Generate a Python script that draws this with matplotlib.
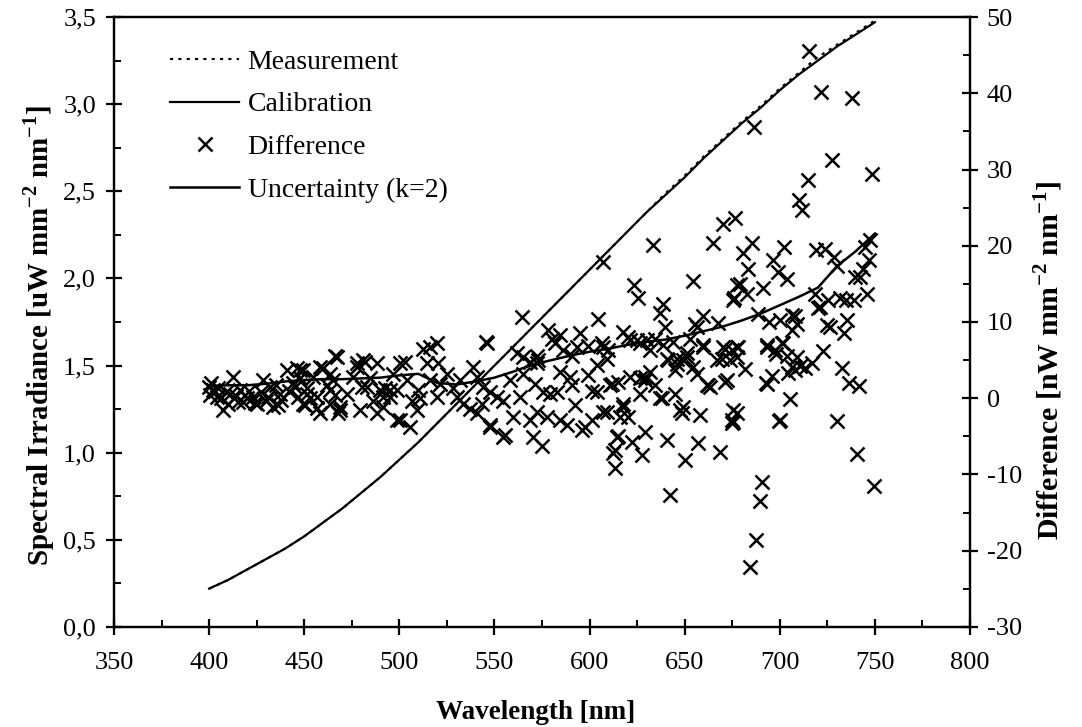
import numpy as np
import matplotlib
matplotlib.use('Agg')
from matplotlib import pyplot as plt
from matplotlib.ticker import MultipleLocator, FixedLocator

plt.rcParams['font.family'] = 'Liberation Serif'
plt.rcParams['mathtext.fontset'] = 'custom'
plt.rcParams['mathtext.rm'] = 'Liberation Serif'
plt.rcParams['mathtext.bf'] = 'Liberation Serif:bold'
plt.rcParams['axes.unicode_minus'] = False

# spectral irradiance curves (left axis)
wl = np.array([400, 410, 420, 430, 440, 450, 460, 470, 480, 490, 500, 510, 520, 530, 540,
               550, 560, 570, 580, 590, 600, 610, 620, 630, 640, 650, 660, 670, 680, 690,
               700, 710, 720, 730, 740, 750])
calibration = np.array([0.22, 0.27, 0.33, 0.39, 0.45, 0.52, 0.60, 0.68, 0.77, 0.86, 0.96, 1.06,
                        1.17, 1.28, 1.39, 1.50, 1.61, 1.72, 1.83, 1.94, 2.05, 2.16, 2.27, 2.38,
                        2.48, 2.58, 2.69, 2.79, 2.89, 2.98, 3.08, 3.17, 3.25, 3.33, 3.40, 3.47])
measurement = np.array([0.22, 0.27, 0.33, 0.39, 0.45, 0.52, 0.60, 0.68, 0.77, 0.86, 0.96, 1.06,
                        1.17, 1.28, 1.39, 1.50, 1.61, 1.72, 1.83, 1.94, 2.05, 2.16, 2.27, 2.38,
                        2.49, 2.59, 2.70, 2.80, 2.90, 2.99, 3.09, 3.18, 3.27, 3.34, 3.41, 3.48])

# expanded uncertainty (k=2), right axis
wl_unc = np.array([400, 410, 420, 430, 440, 450, 460, 470, 480, 490, 500, 510, 515, 520, 530,
                   540, 550, 560, 570, 580, 590, 600, 610, 620, 630, 640, 650, 660, 670, 680,
                   690, 700, 710, 720, 730, 740, 750])
uncertainty = np.array([1.6, 1.7, 1.7, 1.9, 2.2, 2.4, 2.5, 2.5, 2.6, 2.7, 3.0, 3.2, 2.6, 2.0, 1.8,
                        2.2, 2.7, 3.5, 4.4, 5.0, 5.6, 6.1, 6.5, 7.0, 7.4, 7.7, 8.2, 8.8, 9.4, 10.2,
                        11.1, 12.2, 13.3, 14.5, 17.3, 19.3, 21.6])

# difference measurement - calibration (right axis)
wl_diff = np.array([
    400.0, 402.2, 400.5, 404.9, 407.5, 412.7, 411.0, 416.2, 419.7, 425.0, 428.5, 432.0, 433.8,
    437.3, 440.8, 401.0, 403.0, 406.0, 409.0, 414.0, 418.0, 421.0, 423.0, 427.0, 430.0, 435.0,
    438.0, 442.0, 404.0, 410.0, 415.0, 424.0, 431.0, 436.0,
    444.3, 447.8, 449.5, 451.3, 454.8, 458.3, 456.5, 458.3, 463.6, 467.1, 468.8, 465.3, 446.0,
    449.5, 447.8, 445.1, 451.3, 446.9, 453.0, 450.4, 456.5, 460.0, 463.5, 466.2, 461.8, 466.2,
    463.5, 468.8, 467.9,
    472.3, 477.6, 481.1, 479.3, 482.8, 488.1, 488.1, 491.6, 496.9, 498.6, 495.1, 477.6, 482.0,
    475.8, 480.2, 484.6, 489.8, 486.3, 492.5, 491.6, 495.1, 500.3, 503.0, 503.9, 498.6, 506.5,
    500.3, 505.6, 509.1, 510.0,
    512.6, 516.1, 519.6, 514.4, 520.5, 516.1, 521.4, 519.6, 510.9, 524.9, 528.4, 530.2, 533.7,
    538.9, 540.7, 544.2, 547.7, 551.2, 554.7, 545.9, 531.9, 537.2, 540.7, 547.7, 554.7, 560.0,
    561.7, 565.2, 568.7, 572.2, 565.2, 558.2, 563.5, 568.7, 570.5, 543.3, 564.3, 545.6, 547.7,
    555.6, 574.9,
    578.3, 580.1, 584.5, 595.0, 581.9, 593.2, 599.3, 607.2, 609.9, 609.0, 603.8, 572.2, 573.1,
    586.2, 590.6, 584.5, 589.7, 599.4, 590.6, 571.3, 575.7, 579.2, 582.7, 601.1, 603.8, 611.6,
    615.1, 592.4, 617.8, 609.0, 572.2, 577.5, 584.5, 588.0, 597.6, 595.9, 601.1, 616.1, 615.1,
    612.5, 613.4, 604.6, 617.8, 620.4, 607.3, 606.4, 607.3, 614.3, 613.4, 610.8,
    623.4, 625.7, 654.6, 638.4, 637.0, 659.8, 655.4, 667.7, 639.7, 624.8, 630.1, 634.4, 631.8,
    638.8, 644.0, 652.8, 659.8, 651.0, 645.8, 649.3, 641.4, 670.3, 674.7, 666.8, 669.5, 673.9,
    677.3, 621.3, 626.5, 629.2, 631.8, 634.4, 626.5, 637.9, 645.0, 656.3, 661.6, 663.4, 671.2,
    620.4, 649.3, 648.5, 658.1, 675.6, 674.7, 622.2, 629.2, 640.6, 657.2, 668.6, 627.4, 650.2,
    642.3, 633.6, 665.1, 670.4, 676.5, 621.3, 626.5, 640.6, 645.8, 651.1, 654.6, 644.9, 659.8,
    671.2, 662.5, 672.1, 629.2, 637.1, 617.8, 647.6, 674.7, 675.6, 656.3, 675.6, 677.4, 679.1,
    690.5, 689.6, 687.5, 684.4, 749.6, 740.5, 730.3, 699.8, 677.7, 705.4, 692.8, 695.8, 681.8,
    704.5, 710.7, 713.3, 716.8, 722.6, 732.6, 736.6, 741.4, 678.2, 693.5, 697.8, 701.5, 724.7,
    726.4, 733.8, 735.5, 688.7, 694.5, 706.3, 708.0, 706.3, 720.3,
    715.4, 721.5, 737.8, 686.5, 727.7, 748.7, 714.7, 710.3, 711.5, 685.3, 680.8, 702.4, 719.1,
    723.8, 728.7, 729.9, 747.5, 744.8, 747.1, 744.0, 739.6, 742.2, 745.7, 696.6, 683.5, 699.3,
    703.6, 682.6, 691.4, 675.9, 718.6, 721.2, 725.6, 731.7, 734.9, 739.1, 700.2, 709.0, 693.1,
    697.5, 701.0, 703.7, 706.3, 708.9, 708.0, 693.1, 700.2, 677.4])
diff = np.array([
    1.5, 1.1, 0.4, 1.3, -1.6, 2.8, 0.6, 1.1, 0.0, -0.7, 2.4, 1.5, -1.1,
    0.6, 3.7, 2.0, 0.9, 0.0, 0.8, 0.3, -0.5, 1.0, 0.2, 0.8, -0.3, 1.8,
    -0.2, 1.0, 0.2, -0.8, -0.5, -0.6, 0.2, -0.9,
    2.0, 3.7, -0.7, 0.6, 2.8, -2.0, 0.2, 4.1, 1.1, 5.4, -1.6, 2.4, 3.9,
    3.7, 2.6, 1.5, 1.3, 0.2, 0.0, -0.9, -1.3, 3.9, 3.2, 5.6, 1.7, 0.4,
    -0.7, -1.1, -2.0,
    0.6, 4.1, 5.0, -1.6, 1.5, 4.6, -2.0, 0.2, 3.2, -2.9, 1.1, 4.6, 4.8,
    2.8, 1.5, 2.6, 1.1, -0.3, 1.3, -1.1, 0.2, 4.6, 4.8, 2.4, 1.1, -0.3,
    -2.9, -3.8, -1.6, 1.1,
    6.5, 6.7, 7.2, 4.6, 4.6, 2.4, 1.9, 0.2, 0.0, 3.2, 1.3, 0.2, -0.7,
    4.1, 2.8, 1.5, 0.8, 0.2, -0.3, 7.2, 2.4, -1.4, -2.0, -3.8, -5.1, -2.4,
    5.9, 5.4, 4.8, 4.6, 3.2, 2.4, 0.2, -2.9, -5.1, -0.7, 10.7, 7.4, -3.5,
    -4.8, -6.2,
    8.9, 7.8, 8.3, 8.5, 7.2, 6.7, 6.8, 6.7, 6.3, 5.2, 4.3, 5.6, 5.0,
    6.3, 5.6, 3.4, 2.8, 3.0, 1.7, 1.9, 0.8, 0.6, 0.8, 1.0, 0.8, 1.9,
    2.1, -0.9, -0.7, -1.8, -1.8, -2.4, -2.9, -3.5, -3.8, -4.2, -2.9, -2.4, -4.9,
    -7.2, -9.2, 10.4, 8.7, 8.0, 17.9, 7.2, -1.8, -5.1, -6.8, 1.7,
    14.8, 13.2, 15.4, 12.4, 11.2, 10.8, 9.7, 9.9, 9.3, 7.6, 7.6, 7.8, 6.3,
    7.0, 7.4, 7.8, 7.0, 5.9, 5.2, 5.0, 5.0, 6.7, 6.3, 5.0, 5.2, 5.0,
    5.4, 2.8, 2.6, 2.8, 3.4, 1.7, 0.6, 0.0, 0.6, 3.2, 1.7, 1.5, 2.1,
    -2.4, -1.1, -2.0, -2.2, -1.6, -3.3, -5.7, -4.4, -5.5, -5.9, -7.0, -7.5, -8.1,
    -12.7, 20.1, 20.3, 22.9, 23.6, 7.6, 7.2, 5.2, 4.5, 5.4, 4.1, 3.7, 6.7,
    6.5, 1.7, 2.4, 2.4, 0.0, -1.1, -1.6, -2.9, -3.1, 9.4, 12.9, 14.8, 15.0,
    -11.0, -13.5, -18.6, -22.1, -11.5, -7.3, -3.0, -3.0, -1.9, -0.1, 2.0, 2.9, 3.8,
    3.3, 4.2, 3.9, 4.6, 6.2, 3.9, 2.0, 1.6, 6.7, 7.0, 5.8, 7.2, 9.6,
    9.4, 8.5, 10.3, 11.1, 10.0, 10.9, 10.8, 9.0, 11.8,
    45.6, 40.2, 39.4, 35.6, 31.3, 29.4, 28.6, 26.0, 24.7, 20.3, 19.0, 19.8, 19.5,
    19.6, 18.5, 17.4, 20.8, 19.8, 18.1, 17.0, 15.9, 15.9, 13.7, 18.1, 16.9, 16.6,
    15.7, 13.7, 14.4, 13.1, 13.7, 12.0, 12.9, 13.1, 12.9, 12.9, 10.3, 9.8, 6.7,
    6.3, 7.2, 5.6, 4.1, 5.4, 3.7, 1.9, -2.9, 6.7])

left_ticks = [0, 0.5, 1.0, 1.5, 2.0, 2.5, 3.0, 3.5]
left_labels = ['0,0', '0,5', '1,0', '1,5', '2,0', '2,5', '3,0', '3,5']
right_ticks = [-30, -20, -10, 0, 10, 20, 30, 40, 50]
x_ticks = [350, 400, 450, 500, 550, 600, 650, 700, 750, 800]

fig = plt.figure(figsize=(10.82, 7.27), dpi=100)
ax1 = fig.add_axes([0.1054, 0.1376, 0.7911, 0.8390])
ax2 = ax1.twinx()

l_meas, = ax1.plot(wl, measurement, color='k', lw=1.5, ls=(0, (1.5, 2.5)))
l_cal, = ax1.plot(wl, calibration, color='k', lw=1.6)
sc, = ax2.plot(wl_diff, diff, ls='none', marker='x', ms=10.5, mew=1.8, color='k')
l_unc, = ax2.plot(wl_unc, uncertainty, color='k', lw=1.8)

ax1.set_xlim(350, 800)
ax1.set_ylim(0, 3.5)
ax2.set_ylim(-30, 50)

ax1.xaxis.set_major_locator(FixedLocator(x_ticks))
ax1.xaxis.set_minor_locator(MultipleLocator(25))
ax1.set_yticks(left_ticks)
ax1.set_yticklabels(left_labels)
ax1.yaxis.set_minor_locator(MultipleLocator(0.25))
ax2.set_yticks(right_ticks)
ax2.yaxis.set_minor_locator(MultipleLocator(5))

for ax in (ax1, ax2):
    for s in ax.spines.values():
        s.set_linewidth(1.6)
    ax.tick_params(which='major', direction='inout', length=12, width=1.6, labelsize=19)
    ax.tick_params(which='minor', direction='in', length=5, width=1.4)
ax1.tick_params(axis='x', which='major', pad=12)
ax1.tick_params(axis='y', which='major', pad=7)
ax2.tick_params(axis='y', which='major', pad=6)

ax1.set_xlabel('Wavelength [nm]', fontsize=19.5, fontweight='bold')
ax1.xaxis.set_label_coords(0.492, -0.12)
ax1.set_ylabel(r'Spectral Irradiance [uW mm$^{\mathbf{-2}}$ nm$^{\mathbf{-1}}$]',
               fontsize=20.8, fontweight='bold')
ax1.yaxis.set_label_coords(-0.067, 0.477)
ax2.set_ylabel(r'Difference [nW mm$^{\mathbf{-2}}$ nm$^{\mathbf{-1}}$]',
               fontsize=21.5, fontweight='bold')
ax2.yaxis.set_label_coords(1.072, 0.437)

leg = ax2.legend([l_meas, l_cal, sc, l_unc],
                 ['Measurement', 'Calibration', 'Difference', 'Uncertainty (k=2)'],
                 loc='upper left', bbox_to_anchor=(0.0654, 0.947), frameon=False,
                 fontsize=20, handlelength=2.5, handletextpad=0.29, labelspacing=0.62,
                 borderpad=0, borderaxespad=0)

fig.savefig('out.png', dpi=100)
